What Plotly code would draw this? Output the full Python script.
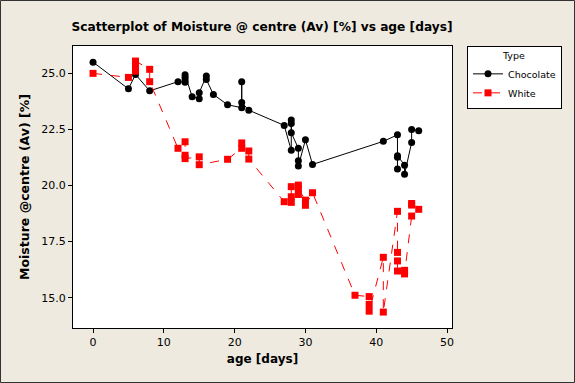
import plotly.graph_objects as go

# Chocolate series (age in days, moisture %)
choc_age = [0, 5, 6, 8, 12, 13, 13, 13, 13, 14, 15, 15, 16, 16, 17, 19, 21, 21, 21, 22,
            27, 28, 28, 28, 28, 29, 29, 29, 30, 31, 41, 43, 43, 43, 43, 44, 44, 45, 45, 46]
choc_moist = [25.5, 24.31, 24.95, 24.22, 24.63, 24.6, 24.7, 24.83, 24.94, 23.96, 23.87, 24.14,
              24.88, 24.73, 24.06, 23.6, 23.47, 24.63, 23.7, 23.36,
              22.68, 21.57, 22.92, 22.77, 22.35, 21.66, 21.1, 20.87, 22.04, 20.94,
              21.97, 22.26, 20.74, 21.26, 21.33, 20.91, 20.5, 21.92, 22.5, 22.44]

# White series
white_age = [0, 5, 6, 6, 6, 8, 8, 12, 13, 13, 13, 15, 15, 19, 21, 21, 22, 22,
             27, 28, 28, 28, 29, 29, 29, 30, 30, 31, 37, 39, 39, 39, 41, 41,
             43, 43, 43, 43, 44, 44, 45, 45, 45, 46]
white_moist = [25.0, 24.82, 25.1, 25.3, 25.55, 25.18, 24.63, 21.66, 21.95, 21.35, 21.2, 21.28, 20.93,
               21.17, 21.66, 21.9, 21.54, 21.18,
               19.28, 19.25, 19.5, 19.95, 19.6, 20.02, 19.85, 19.35, 19.12, 19.68, 15.11,
               15.05, 14.7, 14.4, 16.8, 14.36,
               18.85, 17.02, 16.64, 16.19, 16.22, 16.06, 18.64, 19.13, 19.2, 18.94]

x_ticks = [0, 10, 20, 30, 40, 50]
y_ticks = [15.0, 17.5, 20.0, 22.5, 25.0]

BG = "#EEEADF"
FONT = "DejaVu Sans"

fig = go.Figure()
fig.add_trace(go.Scatter(
    x=choc_age, y=choc_moist, mode="lines+markers", name="Chocolate",
    line=dict(color="black", width=1),
    marker=dict(symbol="circle", size=7, color="black"),
))
fig.add_trace(go.Scatter(
    x=white_age, y=white_moist, mode="lines+markers", name="White",
    line=dict(color="#FF0000", width=1, dash="dash"),
    marker=dict(symbol="square", size=7, color="#FF0000"),
))

L, R, T, B = 73, 123, 46, 55
pw = 575 - L - R
ph = 383 - T - B

fig.update_layout(
    width=575, height=383,
    margin=dict(l=L, r=R, t=T, b=B, pad=0),
    paper_bgcolor=BG, plot_bgcolor="white",
    font=dict(family=FONT, size=11, color="black"),
    title=dict(text="<b>Scatterplot of Moisture @ centre (Av) [%] vs age [days]</b>",
               x=262 / 575, xanchor="center", y=1 - 27 / 383, yanchor="middle",
               font=dict(family=FONT, size=12.2, color="black")),
    showlegend=True,
    legend=dict(
        title=dict(text="Type", font=dict(size=9.5), side="top center"),
        x=(467 - L) / pw, xanchor="left", y=1, yanchor="top",
        bgcolor="white", bordercolor="black", borderwidth=1,
        font=dict(family=FONT, size=9.5),
        tracegroupgap=0, itemwidth=30,
    ),
    xaxis=dict(
        range=[-2.83, 50.7], tickvals=x_ticks, ticks="outside", ticklen=4,
        tickcolor="black", showgrid=False, zeroline=False,
        showline=True, linecolor="black", linewidth=1, mirror=True,
        title=dict(text="<b>age [days]</b>", font=dict(size=12), standoff=6),
    ),
    yaxis=dict(
        range=[13.65, 26.22], tickvals=y_ticks, tickformat=".1f", ticks="outside", ticklen=4,
        tickcolor="black", showgrid=False, zeroline=False,
        showline=True, linecolor="black", linewidth=1, mirror=True,
        title=dict(text="<b>Moisture @centre (Av) [%]</b>", font=dict(size=12.5), standoff=8),
    ),
    shapes=[dict(type="rect", xref="paper", yref="paper",
                 x0=(0.5 - L) / pw, x1=(574.5 - L) / pw,
                 y0=-(B - 0.5) / ph, y1=1 + (T - 0.5) / ph,
                 line=dict(color="#333333", width=1), layer="below")],
)

fig.write_html("out.html", config={"displayModeBar": False},
               post_script="document.body.style.margin='0';")
